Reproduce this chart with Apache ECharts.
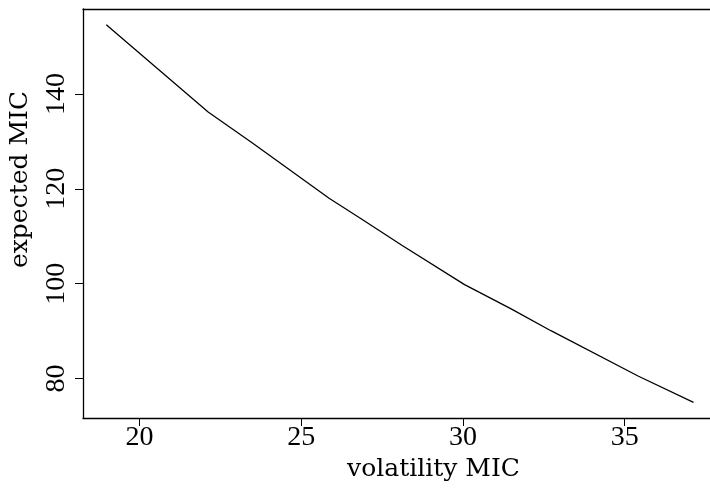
<!DOCTYPE html>
<html>
<head>
<meta charset="utf-8">
<script src="https://cdn.jsdelivr.net/npm/echarts@6/dist/echarts.min.js"></script>
<style>
  html, body { margin: 0; padding: 0; background: #fff; }
  #chart { width: 710px; height: 491px; }
</style>
</head>
<body>
<div id="chart"></div>
<script>
// volatility MIC vs expected MIC
const volatility = [18.97, 22.12, 23.5, 25.86, 26.85, 28.11, 30.05, 31.49, 32.72, 35.43, 37.13];
const expected = [154.6, 136.2, 129.6, 118.0, 113.7, 108.1, 99.8, 94.7, 90.1, 80.5, 75.0];
const xTicks = [20, 25, 30, 35];
const yTicks = [80, 100, 120, 140];

const chart = echarts.init(document.getElementById('chart'), null, { renderer: 'canvas' });

const labelFont = 'Liberation Serif';
const titleFont = 'DejaVu Serif';

const option = {
  animation: false,
  backgroundColor: '#fff',
  grid: { left: 79, right: 0, top: 9, bottom: 73 },
  xAxis: [
    {
      type: 'value',
      min: 18.25,
      max: 37.64,
      position: 'bottom',
      name: 'volatility MIC',
      nameLocation: 'middle',
      nameGap: 36,
      nameTextStyle: { fontFamily: titleFont, fontSize: 25, color: '#000', padding: [0, 0, 0, 74] },
      axisLine: { show: true, onZero: false, lineStyle: { color: '#000', width: 1.3 } },
      axisTick: { show: true, length: 8, customValues: xTicks, lineStyle: { color: '#000', width: 1 } },
      axisLabel: { customValues: xTicks, margin: 6, fontFamily: labelFont, fontSize: 28, color: '#000' },
      splitLine: { show: false }
    },
    {
      type: 'value',
      min: 18.25,
      max: 37.64,
      position: 'top',
      axisLine: { show: true, onZero: false, lineStyle: { color: '#000', width: 1.3 } },
      axisTick: { show: false },
      axisLabel: { show: false },
      splitLine: { show: false }
    }
  ],
  yAxis: {
    type: 'value',
    min: 71.7,
    max: 157.9,
    name: 'expected MIC',
    nameLocation: 'middle',
    nameGap: 50,
    nameTextStyle: { fontFamily: titleFont, fontSize: 25, color: '#000', padding: [0, 0, 0, 68] },
    axisLine: { show: true, onZero: false, lineStyle: { color: '#000', width: 1.3 } },
    axisTick: { show: true, length: 8, customValues: yTicks, lineStyle: { color: '#000', width: 1 } },
    axisLabel: { customValues: yTicks, rotate: 90, margin: 12, fontFamily: labelFont, fontSize: 28, color: '#000' },
    splitLine: { show: false }
  },
  series: [
    {
      type: 'line',
      xAxisIndex: 0,
      data: volatility.map((v, i) => [v, expected[i]]),
      showSymbol: false,
      smooth: false,
      lineStyle: { color: '#000', width: 1.3 }
    }
  ]
};

chart.setOption(option);
</script>
</body>
</html>
